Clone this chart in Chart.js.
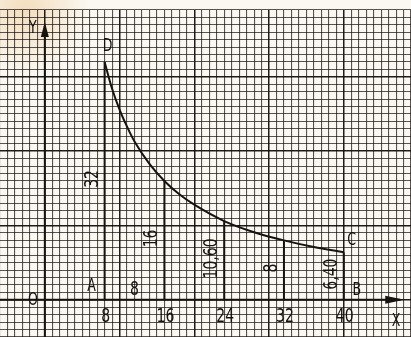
<!DOCTYPE html>
<html>
<head>
<meta charset="utf-8">
<script src="https://cdn.jsdelivr.net/npm/chart.js@4.4.1/dist/chart.umd.min.js"></script>
<style>
  html, body { margin: 0; padding: 0; background: #fbf8f1; }
  canvas { display: block; }
</style>
</head>
<body>
<canvas id="hyperbolaChart" width="411" height="337"></canvas>
<script>
// points of the curve DC
const curveX = [8, 9, 10, 11, 12, 14, 16, 18, 20, 24, 28, 32, 36, 40];
const curveY = [32, 28.4, 25.6, 23.3, 21.3, 18.3, 16, 14.2, 12.8, 10.6, 9.1, 8, 7.1, 6.4];

// ordinates under the curve and the values written along them
const ordX = [8, 16, 24, 32, 40];
const ordY = [32, 16, 10.6, 8, 6.4];
const ordLabels = ['32', '16', '10,60', '8', '6,40'];

// numbers under the x axis
const xTicks = [8, 16, 24, 32, 40];

const FONT = '"DejaVu Sans Condensed", "DejaVu Sans", sans-serif';
const INK = '#151210';

// narrow stencil-like lettering: squeeze the glyphs sideways
function text(ctx, s, x, y, size, rot) {
  ctx.save();
  ctx.translate(x, y);
  if (rot) ctx.rotate(rot);
  ctx.scale(0.82, 1);
  ctx.font = size + 'px ' + FONT;
  ctx.fillStyle = INK;
  ctx.textAlign = 'center';
  ctx.textBaseline = 'middle';
  ctx.fillText(s, 0, 0);
  ctx.restore();
}

// paper tone and the stain in the top corner
const paper = {
  id: 'paper',
  beforeDraw(chart) {
    const ctx = chart.ctx;
    ctx.save();
    ctx.fillStyle = '#fbf8f1';
    ctx.fillRect(0, 0, chart.width, chart.height);
    const g = ctx.createRadialGradient(25, 10, 2, 25, 10, 65);
    g.addColorStop(0, 'rgba(232,180,110,0.38)');
    g.addColorStop(1, 'rgba(232,180,110,0)');
    ctx.fillStyle = g;
    ctx.fillRect(0, 0, 130, 90);
    ctx.restore();
  }
};

// axes with arrows, letters and numbers
const marks = {
  id: 'marks',
  afterDatasetsDraw(chart) {
    const ctx = chart.ctx;
    const xs = chart.scales.x, ys = chart.scales.y;
    const px = v => xs.getPixelForValue(v);
    const py = v => ys.getPixelForValue(v);
    const x0 = px(0), y0 = py(0);

    ctx.save();
    ctx.strokeStyle = INK;
    ctx.fillStyle = INK;
    ctx.lineWidth = 2;

    // x axis
    const xTip = px(48.1);
    ctx.beginPath();
    ctx.moveTo(0, y0);
    ctx.lineTo(xTip - 4, y0);
    ctx.stroke();
    ctx.beginPath();
    ctx.moveTo(xTip, y0);
    ctx.lineTo(xTip - 19, y0 - 4);
    ctx.lineTo(xTip - 19, y0 + 4);
    ctx.closePath();
    ctx.fill();

    // y axis
    const yTip = py(37.4);
    ctx.beginPath();
    ctx.moveTo(x0, chart.chartArea.bottom);
    ctx.lineTo(x0, yTip + 4);
    ctx.stroke();
    ctx.beginPath();
    ctx.moveTo(x0, yTip);
    ctx.lineTo(x0 - 4, yTip + 15);
    ctx.lineTo(x0 + 4, yTip + 15);
    ctx.closePath();
    ctx.fill();
    ctx.restore();

    text(ctx, 'Y', x0 - 12, yTip + 7, 17);
    text(ctx, 'X', px(47), y0 + 22, 17);
    text(ctx, 'O', x0 - 12, y0 + 1, 17);
    text(ctx, 'A', px(8) - 13, y0 - 13, 17);
    text(ctx, 'B', px(40) + 13, y0 - 9, 17);
    text(ctx, 'C', px(40) + 8, py(6.4) - 12, 17);
    text(ctx, 'D', px(8) + 3, py(32) - 15, 17);

    xTicks.forEach(v => text(ctx, String(v), px(v) + 1, y0 + 17, 19));
    text(ctx, '8', px(12), y0 - 10, 19);

    ordX.forEach((v, i) => {
      const mid = (y0 + py(ordY[i])) / 2 - 2;
      text(ctx, ordLabels[i], px(v) - 12, mid, 19, -Math.PI / 2);
    });
  }
};

const gridOpts = {
  color: c => (c.tick && c.tick.value % 10 === 0) ? 'rgba(12,9,8,0.92)' : 'rgba(25,20,18,0.72)',
  lineWidth: c => (c.tick && c.tick.value % 10 === 0) ? 1.5 : 1.1,
  drawTicks: false
};

const datasets = [{
  data: curveX.map((x, i) => ({ x: x, y: curveY[i] })),
  borderColor: INK,
  borderWidth: 2,
  pointRadius: 0,
  cubicInterpolationMode: 'monotone'
}].concat(ordX.map((x, i) => ({
  data: [{ x: x, y: 0 }, { x: x, y: ordY[i] }],
  borderColor: INK,
  borderWidth: 2,
  pointRadius: 0
})));

new Chart(document.getElementById('hyperbolaChart'), {
  type: 'line',
  data: { datasets: datasets },
  plugins: [paper, marks],
  options: {
    responsive: false,
    animation: false,
    devicePixelRatio: 1,
    layout: { padding: { top: 10, left: 0, right: 0, bottom: 0 } },
    plugins: { legend: { display: false }, tooltip: { enabled: false } },
    scales: {
      x: {
        type: 'linear',
        min: -6,
        max: 49,
        ticks: { display: false, stepSize: 1, includeBounds: false },
        border: { display: false },
        grid: gridOpts
      },
      y: {
        type: 'linear',
        min: -5,
        max: 39,
        ticks: { display: false, stepSize: 1, includeBounds: false },
        border: { display: false },
        grid: gridOpts
      }
    }
  }
});
</script>
</body>
</html>
